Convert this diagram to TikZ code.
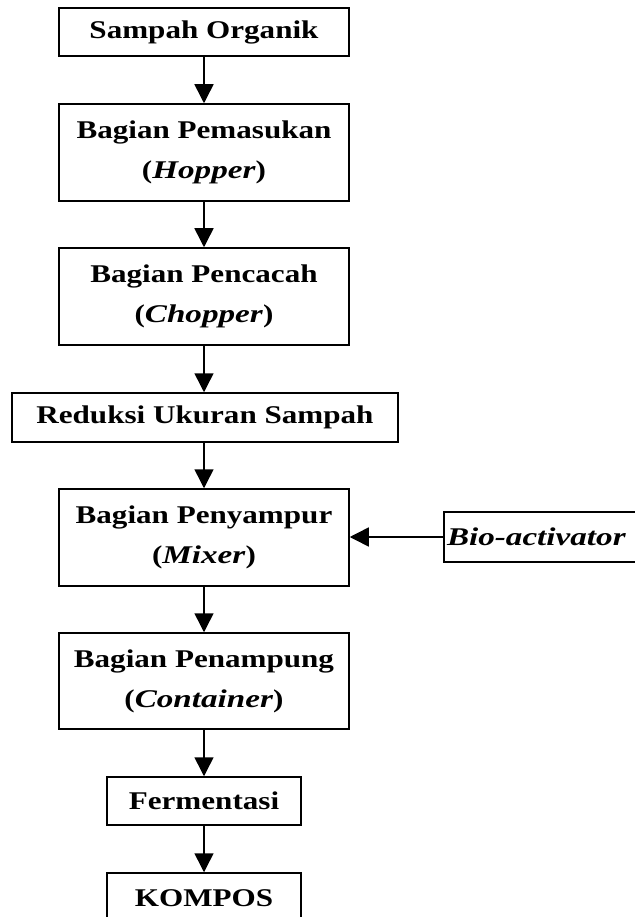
\documentclass[tikz,border=0pt]{standalone}
\usepackage{fontspec}
\setmainfont{Liberation Serif}[FakeStretch=1.22, BoldItalicFeatures={FakeStretch=1.3}]
\usetikzlibrary{arrows.meta}
\begin{document}
\begin{tikzpicture}[x=1pt,y=-1pt,
  box/.style={draw, line width=1.5pt, inner sep=0pt, align=center,
    font=\fontsize{25.5}{40}\selectfont\bfseries},
  arr/.style={line width=1.5pt, -{Triangle[width=19pt,length=19pt]}}]
\useasboundingbox (0,0) rectangle (634,917);
\node[box, minimum width=290, minimum height=48] (b1) at (204,32) {Sampah Organik};
\node[box, minimum width=290, minimum height=97] (b2) at (204,152.5) {Bagian Pemasukan\\(\textit{Hopper})};
\node[box, minimum width=290, minimum height=97] (b3) at (204,296.5) {Bagian Pencacah\\(\textit{Chopper})};
\node[box, minimum width=386, minimum height=49] (b4) at (205,417.5) {Reduksi Ukuran Sampah};
\node[box, minimum width=290, minimum height=97] (b5) at (204,537.5) {Bagian Penyampur\\(\textit{Mixer})};
\node[box, minimum width=290, minimum height=96] (b6) at (204,681) {Bagian Penampung\\(\textit{Container})};
\node[box, minimum width=194, minimum height=48] (b7) at (204,801) {Fermentasi};
\node[box, minimum width=194, minimum height=50] (b8) at (204,898) {KOMPOS};
\node[box, minimum width=194, minimum height=50, text width=188, align=left] (bio) at (541,537) {\textit{Bio-activator}};
\draw[arr] (b1.south) -- (b2.north);
\draw[arr] (b2.south) -- (b3.north);
\draw[arr] (b3.south) -- (b3.south |- b4.north);
\draw[arr] (b4.south -| b5.north) -- (b5.north);
\draw[arr] (b5.south) -- (b6.north);
\draw[arr] (b6.south) -- (b7.north);
\draw[arr] (b7.south) -- (b8.north);
\draw[arr] (bio.west) -- (bio.west -| b5.east);
\end{tikzpicture}
\end{document}
